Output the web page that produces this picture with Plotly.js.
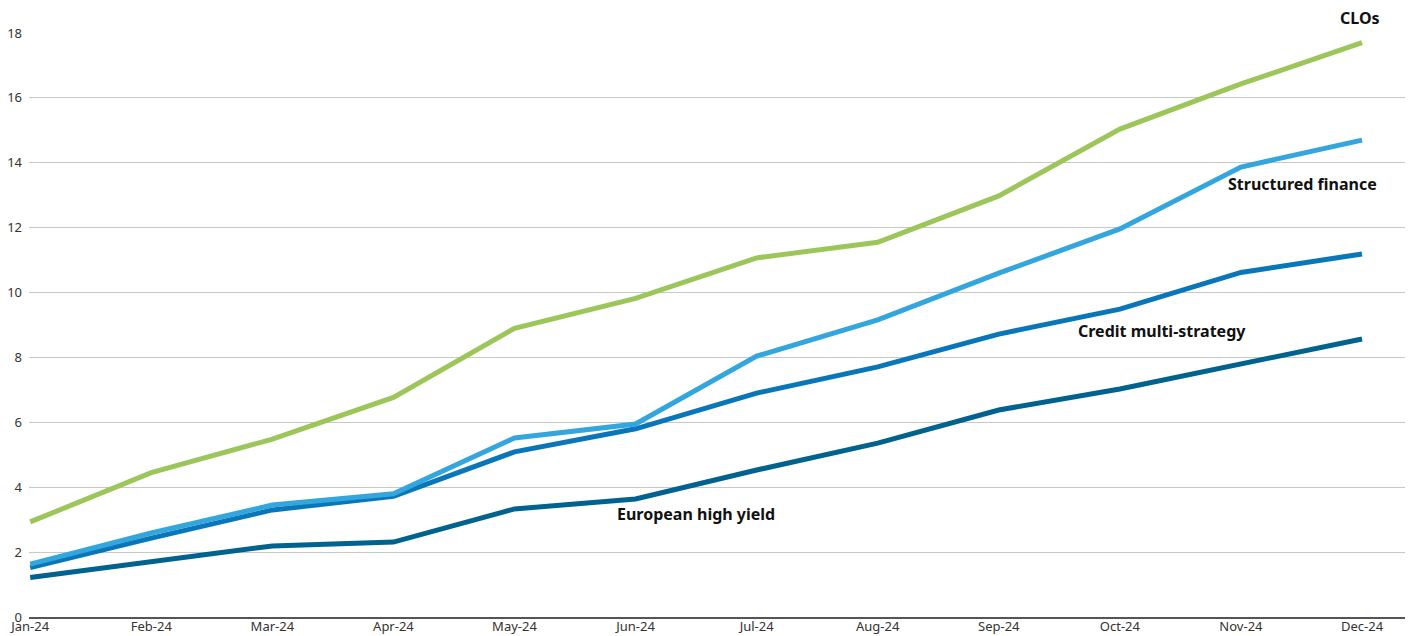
<!DOCTYPE html>
<html>
<head>
<meta charset="utf-8">
<script src="https://cdn.plot.ly/plotly-3.0.1.min.js"></script>
<style>
html,body{margin:0;padding:0;background:#fff;}
#chart{width:1410px;height:636px;}
</style>
</head>
<body>
<div id="chart"></div>
<script>
const months = ["Jan-24","Feb-24","Mar-24","Apr-24","May-24","Jun-24","Jul-24","Aug-24","Sep-24","Oct-24","Nov-24","Dec-24"];
const clos = [2.93, 4.45, 5.48, 6.77, 8.9, 9.82, 11.07, 11.55, 12.98, 15.04, 16.43, 17.7];
const structuredFinance = [1.63, 2.59, 3.45, 3.8, 5.52, 5.95, 8.04, 9.16, 10.6, 11.96, 13.87, 14.7];
const creditMulti = [1.52, 2.43, 3.3, 3.72, 5.09, 5.8, 6.9, 7.71, 8.72, 9.49, 10.62, 11.19];
const europeanHY = [1.22, 1.69, 2.19, 2.31, 3.33, 3.64, 4.53, 5.36, 6.38, 7.03, 7.8, 8.57];

const idx = months.map((_, i) => i);
function tr(y, color, name) {
  return {x: idx, y: y, type: 'scatter', mode: 'lines', name: name,
    line: {color: color, width: 5}, hoverinfo: 'skip'};
}
const data = [
  tr(europeanHY, '#00628f', 'European high yield'),
  tr(creditMulti, '#0a76ba', 'Credit multi-strategy'),
  tr(structuredFinance, '#34a6de', 'Structured finance'),
  tr(clos, '#9cc65a', 'CLOs')
];
const annFont = {family: 'Noto Sans, sans-serif', size: 16, color: '#111'};
function ann(text, x, y, yref) {
  return {text: '<b>' + text + '</b>', x: x, y: y, xref: 'x', yref: yref || 'y', showarrow: false,
    font: annFont, xanchor: 'center', yanchor: 'middle'};
}
const layout = {
  width: 1410, height: 636,
  margin: {l: 29, r: 5, t: 33, b: 19},
  paper_bgcolor: '#fff', plot_bgcolor: '#fff',
  showlegend: false,
  font: {family: 'Noto Sans, sans-serif', size: 13, color: '#333'},
  xaxis: {
    range: [-0.01, 11.355], tickvals: idx, ticktext: months,
    showgrid: false, zeroline: false, showline: true, linecolor: '#555', linewidth: 1.5,
    ticks: '', tickfont: {size: 13, color: '#333'}, ticklabelstandoff: -3, fixedrange: true
  },
  yaxis: {
    range: [0, 18], dtick: 2, tick0: 0, showgrid: true, gridcolor: '#c8c8c8', gridwidth: 1,
    zeroline: false, showline: false, ticks: '', tickfont: {size: 13, color: '#333'},
    ticklabelstandoff: 6, fixedrange: true
  },
  annotations: [
    ann('CLOs', 10.98, 1.0257, 'paper'),
    ann('Structured finance', 10.51, 13.35),
    ann('Credit multi-strategy', 9.35, 8.82),
    ann('European high yield', 5.5, 3.18)
  ]
};
Plotly.newPlot('chart', data, layout, {displayModeBar: false, staticPlot: true});
</script>
</body>
</html>
